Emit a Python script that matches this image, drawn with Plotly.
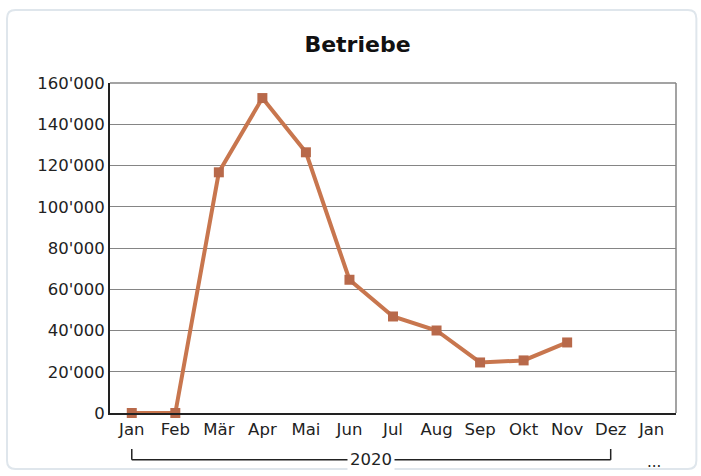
import plotly.graph_objects as go

months = ["Jan", "Feb", "Mär", "Apr", "Mai", "Jun", "Jul", "Aug", "Sep", "Okt", "Nov", "Dez", "Jan "]
values = [0, 0, 116700, 152700, 126400, 64600, 46800, 40000, 24500, 25500, 34200]
ytickvals = [0, 20000, 40000, 60000, 80000, 100000, 120000, 140000, 160000]
yticktext = ["0", "20'000", "40'000", "60'000", "80'000", "100'000", "120'000", "140'000", "160'000"]
title_text = "Betriebe"
group_label = "2020"

fnt = "DejaVu Sans"

fig = go.Figure()
fig.add_trace(go.Scatter(
    x=months[:len(values)], y=values, mode="lines+markers",
    line=dict(color="#c8764e", width=4),
    marker=dict(symbol="square", size=10, color="#b8694a"),
    showlegend=False, cliponaxis=False,
))

fig.update_layout(
    width=701, height=476,
    margin=dict(l=110, r=25, t=83, b=63),
    paper_bgcolor="white", plot_bgcolor="white",
    title=dict(text="<b>" + title_text + "</b>", x=0.51, xanchor="center", y=0.907, yanchor="middle",
               font=dict(family=fnt, size=22, color="#111111")),
    xaxis=dict(type="category", categoryorder="array", categoryarray=months,
               range=[-0.5, len(months) - 0.5], showgrid=False,
               showline=True, linecolor="#222222", linewidth=2, mirror=False,
               ticks="", tickfont=dict(family=fnt, size=16.5, color="#222222")),
    yaxis=dict(range=[0, 160000], tickvals=ytickvals, ticktext=yticktext,
               showgrid=True, gridcolor="#858585", gridwidth=1.2,
               showline=True, linecolor="#222222", linewidth=2,
               ticks="", zeroline=False,
               tickfont=dict(family=fnt, size=16.5, color="#222222")),
)

# right and top frame of plot area
fig.add_shape(type="line", xref="paper", yref="paper", x0=1, x1=1, y0=0, y1=1,
              line=dict(color="#858585", width=1.5))
fig.add_shape(type="line", xref="paper", yref="paper", x0=0, x1=1, y0=1, y1=1,
              line=dict(color="#858585", width=1.5))

# outer rounded border
x0, x1, y0, y1, r = -0.182, 1.036, -0.170, 1.221, 0.015
ry = r * 566 / 330
fig.add_shape(type="path", xref="paper", yref="paper",
              path=(f"M {x0+r},{y1} L {x1-r},{y1} Q {x1},{y1} {x1},{y1-ry} "
                    f"L {x1},{y0+ry} Q {x1},{y0} {x1-r},{y0} L {x0+r},{y0} "
                    f"Q {x0},{y0} {x0},{y0+ry} L {x0},{y1-ry} Q {x0},{y1} {x0+r},{y1} Z"),
              line=dict(color="#dfe6ec", width=2), layer="below")

# group bracket
yb = -0.142
yt = -0.109
fig.add_shape(type="line", xref="x", yref="paper", x0=months[0], x1=months[11], y0=yb, y1=yb,
              line=dict(color="#222222", width=1.5))
fig.add_shape(type="line", xref="x", yref="paper", x0=months[0], x1=months[0], y0=yb, y1=yt,
              line=dict(color="#222222", width=1.5))
fig.add_shape(type="line", xref="x", yref="paper", x0=months[11], x1=months[11], y0=yb, y1=yt,
              line=dict(color="#222222", width=1.5))
fig.add_annotation(x=5.5, xref="x", y=yb, yref="paper", text=group_label, showarrow=False,
                   bgcolor="white", font=dict(family=fnt, size=16.5, color="#222222"),
                   xanchor="center", yanchor="middle", borderpad=2)
fig.add_annotation(x=12, xref="x", y=yb - 0.005, yref="paper", text="...", showarrow=False,
                   font=dict(family=fnt, size=15, color="#222222"),
                   xanchor="center", yanchor="middle")

fig.write_html("out.html", config={"displayModeBar": False},
               post_script="document.body.style.margin='0';document.body.style.overflow='hidden';")
